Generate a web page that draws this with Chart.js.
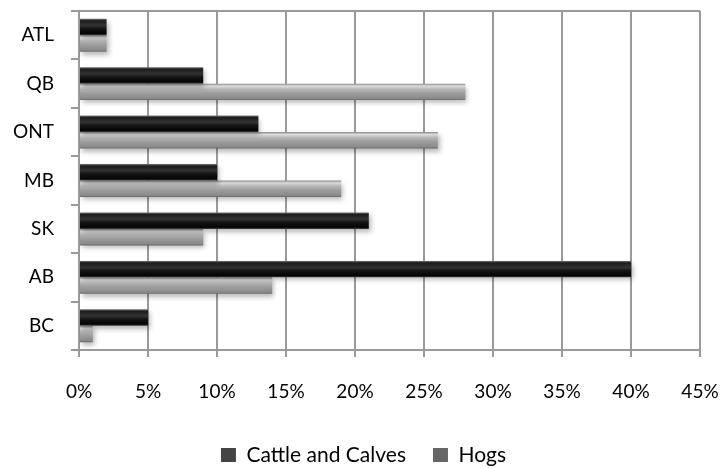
<!DOCTYPE html>
<html>
<head>
<meta charset="utf-8">
<script src="https://cdn.jsdelivr.net/npm/chart.js@4"></script>
<style>
	html, body { margin: 0; padding: 0; background: #fff; }
	#wrap { width: 727px; height: 468px; }
</style>
</head>
<body>
<div id="wrap"><canvas id="chart" width="727" height="468"></canvas></div>
<script>
const provinces = ['ATL', 'QB', 'ONT', 'MB', 'SK', 'AB', 'BC'];
const cattleAndCalves = [2, 9, 13, 10, 21, 40, 5];
const hogs = [2, 28, 26, 19, 9, 14, 1];
const xTicks = [0, 5, 10, 15, 20, 25, 30, 35, 40, 45];

const catPct = 0.68;

// vertical shading inside each bar, worked out from the category scale
function barShade(stops, flat) {
	return function (c) {
		if (c.type !== 'data') return flat;
		const y = c.chart.scales.y;
		if (!y || !y.height) return flat;
		const center = y.getPixelForValue(c.dataIndex);
		const half = y.height / provinces.length * catPct / 2;
		const top = c.datasetIndex === 0 ? center - half : center;
		const g = c.chart.ctx.createLinearGradient(0, top, 0, top + half);
		stops.forEach(s => g.addColorStop(s[0], s[1]));
		return g;
	};
}

// soft drop shadow under the bars
const barShadow = {
	id: 'barShadow',
	beforeDatasetsDraw(chart) {
		const ctx = chart.ctx;
		ctx.save();
		ctx.shadowColor = 'rgba(0,0,0,0.28)';
		ctx.shadowBlur = 5;
		ctx.shadowOffsetX = 2;
		ctx.shadowOffsetY = 3;
	},
	afterDatasetsDraw(chart) {
		chart.ctx.restore();
	}
};

const gridGray = '#9a9a9a';
const font = 'Lato';

new Chart(document.getElementById('chart'), {
	type: 'bar',
	data: {
		labels: provinces,
		datasets: [{
				label: 'Cattle and Calves',
				data: cattleAndCalves,
				backgroundColor: barShade([
					[0, '#777'], [0.12, '#1c1c1c'], [0.4, '#333'],
					[0.6, '#141414'], [0.9, '#050505'], [1, '#444']
				], '#0a0a0a'),
				borderWidth: 0
			},
			{
				label: 'Hogs',
				data: hogs,
				backgroundColor: barShade([
					[0, '#8c8c8c'], [0.15, '#dcdcdc'], [0.35, '#b4b4b4'],
					[0.6, '#9c9c9c'], [0.9, '#8a8a8a'], [1, '#666']
				], '#a0a0a0'),
				borderWidth: 0
			}
		]
	},
	plugins: [barShadow],
	options: {
		indexAxis: 'y',
		responsive: false,
		animation: false,
		layout: {
			padding: { top: 11, right: 0, left: 0, bottom: 0 }
		},
		datasets: {
			bar: { categoryPercentage: catPct, barPercentage: 1 }
		},
		scales: {
			x: {
				min: 0,
				max: 45,
				// keep the room on the right inside the axis so the legend spans the full width
				afterFit: s => { s.height = 67.5; s.paddingLeft = 0; s.paddingRight = 27; },
				afterBuildTicks: s => { s.ticks = xTicks.map(v => ({ value: v })); },
				grid: { color: gridGray, lineWidth: 2, tickLength: 7 },
				border: { color: gridGray, width: 2 },
				ticks: {
					color: '#000',
					padding: 23,
					maxRotation: 0,
					font: { family: font, size: 19 },
					callback: v => v + '%'
				}
			},
			y: {
				afterFit: s => { s.width = 79; s.paddingTop = 0; s.paddingBottom = 0; },
				grid: {
					offset: true,
					color: c => c.index === 0 ? gridGray : 'rgba(0,0,0,0)',
					tickColor: gridGray,
					lineWidth: 2,
					tickLength: 8
				},
				border: { color: gridGray, width: 2 },
				ticks: {
					color: '#000',
					padding: 17,
					font: { family: font, size: 19 }
				}
			}
		},
		plugins: {
			legend: {
				position: 'bottom',
				maxHeight: 50.5,
				labels: {
					color: '#000',
					boxWidth: 15,
					boxHeight: 14,
					padding: 27,
					font: { family: font, size: 21 }
				}
			},
			tooltip: { enabled: false }
		}
	}
});
</script>
</body>
</html>
